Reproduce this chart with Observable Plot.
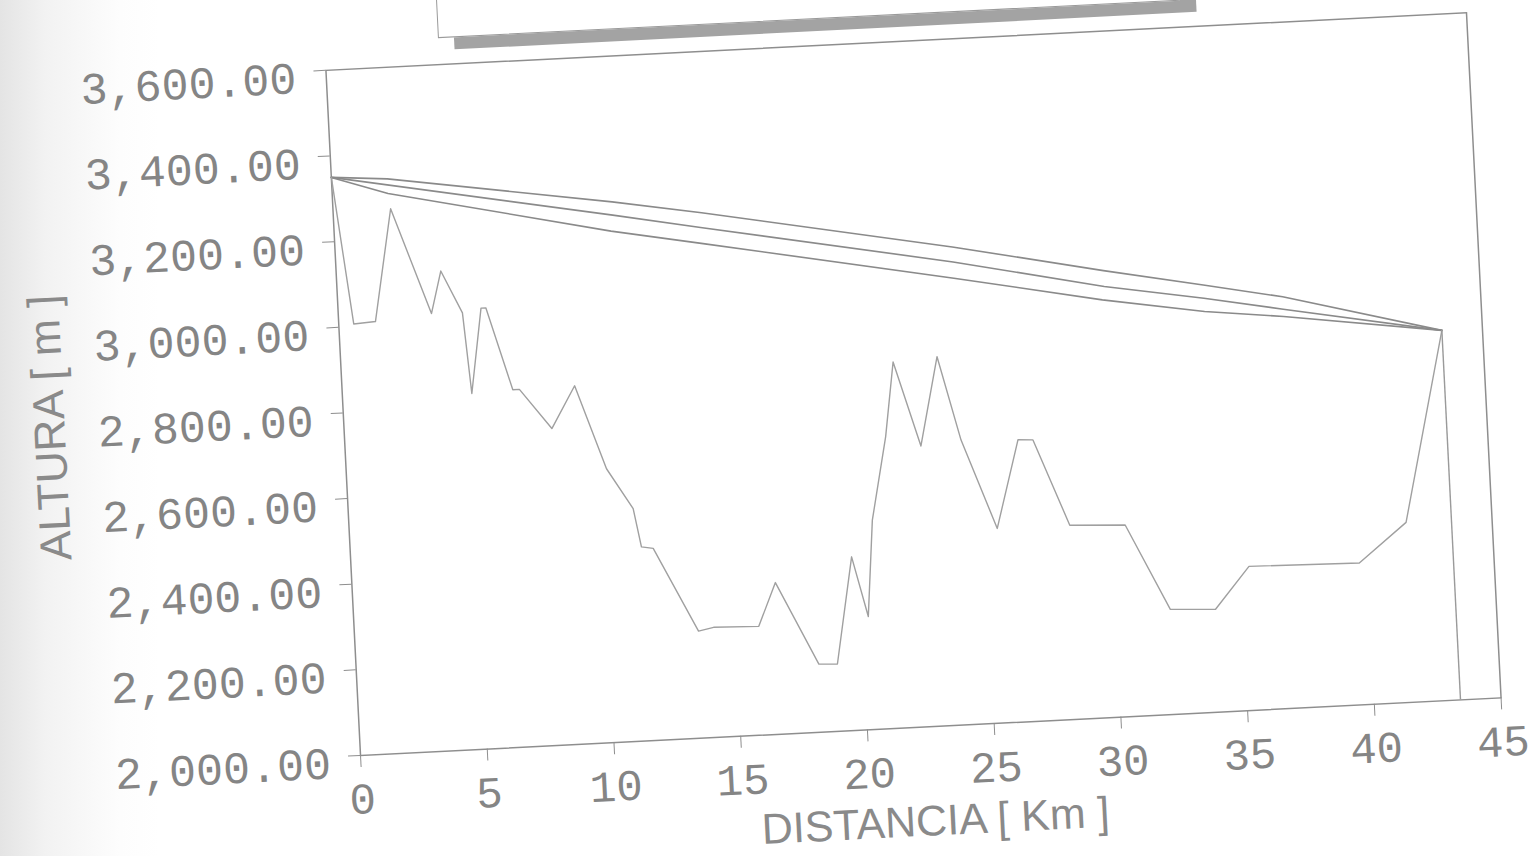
<!DOCTYPE html>
<html>
<head>
<meta charset="utf-8">
<script src="https://cdn.jsdelivr.net/npm/d3@7"></script>
<script src="https://cdn.jsdelivr.net/npm/@observablehq/plot@0.6"></script>
<style>
html, body { margin: 0; padding: 0; width: 1535px; height: 856px; overflow: hidden; background: #fff; }
#bg { position: absolute; left: 0; top: 0; width: 1535px; height: 856px;
      background: linear-gradient(to right, #e4e4e4 0px, #f2f2f2 45px, #fdfdfd 120px, #fff 160px); }
#sheet { position: absolute; left: 0; top: 0; width: 1535px; height: 905px;
         transform-origin: 360px 755px; transform: rotate(-2.89deg); }
#header { position: absolute; left: 474px; top: -300px; width: 743px; height: 343px; background: #fff;
          border: 1.5px solid #9a9a9a; box-shadow: 16px 12px 0 #a3a3a3; box-sizing: border-box; }
#chart { position: absolute; left: 0; top: 0; }
</style>
</head>
<body>
<div id="bg"></div>
<div id="sheet"><div id="header"></div><div id="chart"></div></div>
<script>
// Terrain profile (distance in km, altitude in m)
const profileKm = [0, 0.59, 1.45, 2.27, 3.67, 4.12, 4.89, 5.10, 5.63, 5.82, 6.72, 6.98, 8.18, 9.16, 10.25, 11.22, 11.47, 11.93, 13.55, 14.15, 15.93, 16.67, 18.22, 18.95, 19.72, 20.26, 20.61, 21.30, 21.74, 22.67, 23.48, 24.26, 25.51, 26.50, 27.09, 28.37, 30.55, 32.16, 33.94, 35.34, 39.69, 41.61, 43.40];
const profileM  = [3350, 3006, 3009, 3270, 3021, 3119, 3019, 2830, 3028, 3028, 2834, 2834, 2739, 2836, 2639, 2543, 2453, 2448, 2250, 2257, 2254, 2354, 2159, 2157, 2405, 2264, 2488, 2681, 2854, 2655, 2861, 2664, 2454, 2658, 2656, 2453, 2447, 2245, 2240, 2336, 2331, 2420, 2863];

// Three upper lines (start at the first point, end at the last point)
const upperKm  = [0, 2.2, 11.0, 14.5, 24.3, 30.2, 34.1, 37.2, 43.4];
const upperM   = [3350, 3340, 3260, 3224, 3115, 3042, 2997, 2960, 2863];
const middleKm = [0, 11.0, 14.5, 24.3, 30.2, 34.1, 37.2, 43.4];
const middleM  = [3350, 3229, 3189, 3080, 3005, 2966, 2931, 2863];
const lowerKm  = [0, 2.2, 10.9, 14.5, 24.3, 30.1, 34.1, 37.2, 43.4];
const lowerM   = [3350, 3306, 3192, 3152, 3042, 2974, 2935, 2914, 2863];

// Axes
const xTicks = [0, 5, 10, 15, 20, 25, 30, 35, 40, 45];
const yTicks = [2000, 2200, 2400, 2600, 2800, 3000, 3200, 3400, 3600];
const xTitle = "DISTANCIA [ Km ]";
const yTitle = "ALTURA [ m ]";

const zip = (xs, ys) => xs.map((x, i) => ({x, y: ys[i]}));
const profile = zip(profileKm, profileM);
const last = profile[profile.length - 1];
const fmt = d3.format(",.2f");
const mono = "'Courier New', 'Liberation Mono', monospace";
const sans = "'Liberation Sans', Arial, sans-serif";

const chart = Plot.plot({
  width: 1535,
  height: 905,
  marginLeft: 360,
  marginRight: 33,
  marginTop: 69,
  marginBottom: 150,
  style: {background: "transparent", color: "#808080", fontFamily: mono, overflow: "visible", maxWidth: "none"},
  x: {domain: [0, 45]},
  y: {domain: [2000, 3600]},
  marks: [
    Plot.frame({stroke: "#8e8e8e", strokeWidth: 1.5}),
    Plot.axisX({ticks: xTicks, tickSize: 12, tickPadding: 15, fontSize: 44, label: null,
                stroke: "#8e8e8e", fill: "#858585", tickFormat: d => String(d)}),
    Plot.axisY({ticks: yTicks, tickSize: 12, label: null, stroke: "#8e8e8e", tickFormat: () => ""}),
    Plot.text(yTicks, {y: d => d, text: d => fmt(d), frameAnchor: "left", dx: -30, dy: 7,
                       textAnchor: "end", fontSize: 45, fill: "#858585", fontFamily: mono}),
    Plot.line(zip(upperKm, upperM), {x: "x", y: "y", stroke: "#8a8a8a", strokeWidth: 1.6}),
    Plot.line(zip(middleKm, middleM), {x: "x", y: "y", stroke: "#8a8a8a", strokeWidth: 1.6}),
    Plot.line(zip(lowerKm, lowerM), {x: "x", y: "y", stroke: "#8a8a8a", strokeWidth: 1.6}),
    Plot.line(profile, {x: "x", y: "y", stroke: "#a0a0a0", strokeWidth: 1.4}),
    Plot.ruleX([last], {x: "x", y1: 2000, y2: "y", stroke: "#9a9a9a", strokeWidth: 1.4}),
    Plot.text([yTitle], {frameAnchor: "left", dx: -293, rotate: -90, textAnchor: "middle", lineAnchor: "middle",
                         fontSize: 44, fontFamily: sans, fill: "#8a8a8a"}),
    Plot.text([xTitle], {frameAnchor: "bottom", dy: 95, textAnchor: "middle", lineAnchor: "middle",
                         fontSize: 43, fontFamily: sans, fill: "#8a8a8a"})
  ]
});
document.getElementById("chart").appendChild(chart);
</script>
</body>
</html>
